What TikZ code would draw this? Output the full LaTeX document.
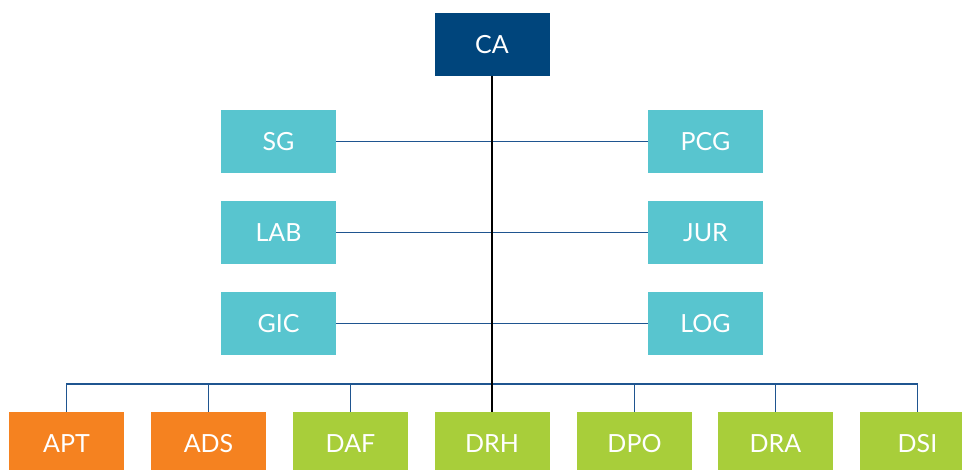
\documentclass[tikz,border=0pt]{standalone}
\usepackage{fontspec}
\setmainfont{Lato}
\definecolor{cadark}{HTML}{00457C}
\definecolor{cyanbox}{HTML}{58C5CF}
\definecolor{orangebox}{HTML}{F58220}
\definecolor{greenbox}{HTML}{A8CE3A}
\definecolor{linkblue}{HTML}{1F5590}
\begin{document}
\begin{tikzpicture}[x=1pt,y=-1pt,
  box/.style={minimum width=115pt,minimum height=63pt,inner sep=0pt,text=white,font=\fontsize{25}{29}\selectfont},
  topbox/.style={box,fill=cadark},
  midbox/.style={box,fill=cyanbox},
  orgbox/.style={box,fill=orangebox},
  grnbox/.style={box,fill=greenbox},
  link/.style={draw=linkblue,line width=1.6pt},
  trunk/.style={draw=black,line width=1.6pt}]
\useasboundingbox[clip] (0,0) rectangle (962,469);
\node[topbox] (CA) at (492,44.5) {CA};
\node[midbox] (SG) at (278.5,141.5) {SG};
\node[midbox] (PCG) at (705.5,141.5) {PCG};
\node[midbox] (LAB) at (278.5,232.5) {LAB};
\node[midbox] (JUR) at (705.5,232.5) {JUR};
\node[midbox] (GIC) at (278.5,323.5) {GIC};
\node[midbox] (LOG) at (705.5,323.5) {LOG};
\node[orgbox] (APT) at (66.5,443.5) {APT};
\node[orgbox] (ADS) at (208.5,443.5) {ADS};
\node[grnbox] (DAF) at (350.5,443.5) {DAF};
\node[grnbox] (DRH) at (492,443.5) {DRH};
\node[grnbox] (DPO) at (634.5,443.5) {DPO};
\node[grnbox] (DRA) at (775.5,443.5) {DRA};
\node[grnbox] (DSI) at (917.5,443.5) {DSI};
\coordinate (busL) at (66.5,384);
\coordinate (busR) at (917.5,384);
\draw[link] (SG.east) -- (PCG.west);
\draw[link] (LAB.east) -- (JUR.west);
\draw[link] (GIC.east) -- (LOG.west);
\draw[link] (APT.north) -- (busL) -- (busR) -- (DSI.north);
\foreach \n in {ADS,DAF,DPO,DRA}{
  \draw[link] (\n.north) -- (\n.north |- busL);
}
\draw[trunk] (CA.south) -- (DRH.north);
\end{tikzpicture}
\end{document}
